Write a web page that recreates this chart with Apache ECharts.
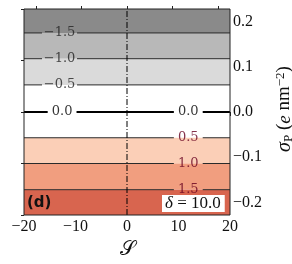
<!DOCTYPE html>
<html><head><meta charset="utf-8">
<script src="https://cdn.jsdelivr.net/npm/echarts@6/dist/echarts.min.js"></script>
<style>html,body{margin:0;padding:0;background:#fff}#c{width:292px;height:264px}</style>
</head><body><div id="c"></div>
<script>
const sRange = [-20, 20];
const sigmaRange = [-0.228, 0.228];
const xTicks = [-20, -10, 0, 10, 20];
const yTicks = [-0.2, -0.1, 0.0, 0.1, 0.2];
const levels = [-1.5, -1.0, -0.5, 0.0, 0.5, 1.0, 1.5];
const levelSigma = [0.175, 0.118, 0.060, 0.0, -0.057, -0.114, -0.172];
const bandColors = ['#8a8a8a', '#b8b8b8', '#dadada', '#ffffff', '#ffffff', '#fbcfb7', '#f19e7f', '#d8654f'];
const labelLevels = [-1.5, -1.0, -0.5, 0.0, 0.0, 0.5, 1.0, 1.5];
const labelS = [-13.1, -13.1, -13.1, -12.6, 11.9, 11.9, 11.9, 11.9];
const markerS = 0;
const deltaValue = 10.0;
const panelText = '(d)';

const fmt = v => (Math.abs(v) < 1e-9 ? '0.0' : v.toFixed(1)).replace('-', '\u2212');
const fmtTick = v => (Math.abs(v) < 1e-9 ? '0' : String(v)).replace('-', '\u2212');
const fmtY = v => (Math.abs(v) < 1e-9 ? '0.0' : v.toFixed(1)).replace('-', '\u2212');

const serif = 'Liberation Serif';
const bounds = [sigmaRange[1], ...levelSigma, sigmaRange[0]];
const bandData = bandColors.map((c, i) => [{yAxis: bounds[i], itemStyle: {color: c}}, {yAxis: bounds[i + 1]}]);

const series = [];
series.push({
  type: 'line', data: [[markerS, sigmaRange[0]], [markerS, sigmaRange[1]]],
  symbol: 'none', z: 1, silent: true,
  lineStyle: {opacity: 0},
  markArea: {silent: true, data: bandData, itemStyle: {borderWidth: 0}, label: {show: false}}
});
levels.forEach((lv, i) => {
  const y = levelSigma[i];
  const cuts = [sRange[0]];
  labelLevels.forEach((ll, j) => {
    if (ll !== lv) return;
    const half = lv < 0 ? 3.4 : 2.8;
    cuts.push(labelS[j] - half, labelS[j] + half);
  });
  cuts.push(sRange[1]);
  for (let k = 0; k < cuts.length; k += 2) {
    series.push({
      type: 'line', data: [[cuts[k], y], [cuts[k + 1], y]], symbol: 'none', z: 3, silent: true,
      lineStyle: {color: lv === 0 ? '#000' : '#2a2a2a', width: lv === 0 ? 2 : 1}
    });
  }
});
series.push({
  type: 'line', data: [[markerS, sigmaRange[0]], [markerS, sigmaRange[1]]],
  symbol: 'none', z: 4, silent: true,
  lineStyle: {color: '#000', width: 1, type: [6, 2, 1, 2]}
});
series.push({
  type: 'scatter', z: 5, silent: true, symbolSize: 1, itemStyle: {color: 'rgba(0,0,0,0)'},
  data: labelLevels.map((lv, j) => ({
    value: [labelS[j], levelSigma[levels.indexOf(lv)], lv],
    label: {show: true, position: 'inside', fontFamily: 'DejaVu Serif', fontSize: 13,
      color: lv < 0 ? '#222' : (lv === 0 ? '#000' : '#67001f'),
      formatter: fmt(lv)}
  })),
  label: {show: true, position: 'inside', fontFamily: 'DejaVu Serif', fontSize: 13}
});

const chart = echarts.init(document.getElementById('c'), null, {renderer: 'canvas'});
chart.setOption({
  backgroundColor: '#fff',
  animation: false,
  grid: [
    {left: 24, right: 62, top: 9, bottom: 49, show: true, borderColor: '#222', borderWidth: 1,
     backgroundColor: 'transparent', z: 10, outerBoundsMode: 'none', containLabel: false},
    {left: 36, right: 74, top: 0, height: 9, show: false, outerBoundsMode: 'none', containLabel: false}
  ],
  xAxis: [
    {type: 'value', gridIndex: 0, min: sRange[0], max: sRange[1], interval: 10,
     axisLine: {show: false}, splitLine: {show: false},
     axisTick: {show: true, length: 4, lineStyle: {color: '#222'}},
     axisLabel: {fontFamily: serif, fontSize: 16, color: '#111', margin: 4, formatter: fmtTick},
     name: '𝒮', nameLocation: 'middle', nameGap: 25,
     nameTextStyle: {fontFamily: 'DejaVu Serif', fontSize: 20, color: '#111'}},
    {type: 'value', gridIndex: 1, min: 0, max: 4, interval: 1, position: 'bottom',
     axisLine: {show: false}, splitLine: {show: false}, axisLabel: {show: false},
     axisTick: {show: true, inside: true, length: 3, lineStyle: {color: '#222'}}}
  ],
  yAxis: [
    {type: 'value', gridIndex: 0, position: 'right', min: sigmaRange[0], max: sigmaRange[1],
     axisLine: {show: false}, splitLine: {show: false},
     axisTick: {show: true, length: 4, customValues: yTicks, lineStyle: {color: '#222'}},
     axisLabel: {fontFamily: serif, fontSize: 16, color: '#111', margin: 3, customValues: yTicks, formatter: fmtY},
     name: '{s|σ}{sub|P} ({e|e} nm{sup|\u22122})', nameLocation: 'middle', nameGap: 44, nameRotate: 90,
     nameTextStyle: {fontFamily: serif, fontSize: 19, color: '#111', padding: [0, 0, 0, 6],
       rich: {s: {fontFamily: serif, fontSize: 20, fontStyle: 'italic'},
              sub: {fontFamily: serif, fontSize: 13, verticalAlign: 'bottom', padding: [7, 0, 0, 0]},
              e: {fontFamily: serif, fontSize: 19, fontStyle: 'italic'},
              sup: {fontFamily: serif, fontSize: 13, verticalAlign: 'top', padding: [0, 0, 8, 0]}}}},
    {type: 'value', gridIndex: 0, position: 'left', min: 0, max: 4, interval: 1,
     axisLine: {show: false}, splitLine: {show: false}, axisLabel: {show: false},
     axisTick: {show: true, length: 3, lineStyle: {color: '#222'}}},
    {type: 'value', gridIndex: 1, show: false}
  ],
  series: series,
  graphic: [
    {type: 'text', left: 27, top: 196, z: 20,
     style: {text: panelText, font: 'bold 15px "DejaVu Sans"', fill: '#111'}},
    {type: 'text', left: 162, top: 195, z: 20,
     style: {text: '{i|δ} = ' + deltaValue.toFixed(1), font: '17px "Liberation Serif"', fill: '#111',
       rich: {i: {font: 'italic 17px "Liberation Serif"', fill: '#111'}},
       backgroundColor: '#fff', padding: [0, 4, 0, 3]}}
  ]
});
</script></body></html>
